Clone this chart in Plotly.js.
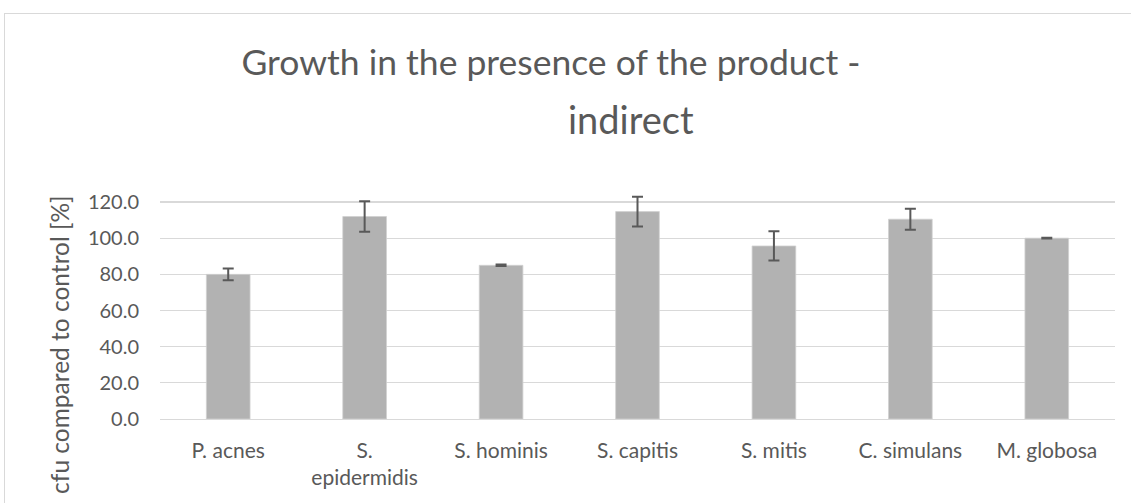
<!DOCTYPE html>
<html>
<head>
<meta charset="utf-8">
<script src="https://cdn.plot.ly/plotly-3.0.1.min.js"></script>
<style>
  html, body { margin: 0; padding: 0; background: #ffffff; }
  #wrap { position: relative; width: 1131px; height: 503px; overflow: hidden; }
  #chart { position: absolute; left: 0; top: 0; width: 1131px; height: 503px; }
  #frame { position: absolute; left: 4px; top: 13px; width: 1140px; height: 520px;
           border-top: 1.5px solid #d9d9d9; border-left: 1.5px solid #d9d9d9; pointer-events: none; }
</style>
</head>
<body>
<div id="wrap">
  <div id="chart"></div>
  <div id="frame"></div>
</div>
<script>
const categories = ["P. acnes", "S. epidermidis", "S. hominis", "S. capitis", "S. mitis", "C. simulans", "M. globosa"];
const tickLabels = ["P. acnes", "S.<br>epidermidis", "S. hominis", "S. capitis", "S. mitis", "C. simulans", "M. globosa"];
const growthPct = [80.0, 112.0, 85.0, 114.7, 95.7, 110.5, 100.0];
const errorPct = [3.3, 8.4, 0.4, 8.2, 8.1, 5.8, 0.2];
const yTicks = [0, 20, 40, 60, 80, 100, 120];

const FONT = "Lato, 'Open Sans', sans-serif";
const GREY = "#595959";

const plotTop = 193.3, plotBottom = 419, plotLeft = 160, plotW = 955;
const plotH = plotBottom - plotTop;
function py(pix) { return (plotBottom - pix) / plotH; }
function px(pix) { return (pix - plotLeft) / plotW; }

const trace = {
  type: "bar",
  x: categories,
  y: growthPct,
  width: 0.32,
  marker: { color: "#b2b2b2", line: { color: "#d0d0d0", width: 0.8 } },
  error_y: { type: "data", array: errorPct, visible: true, color: GREY, thickness: 2, width: 5.5 },
  hoverinfo: "x+y"
};

const layout = {
  width: 1131,
  height: 503,
  paper_bgcolor: "rgba(0,0,0,0)",
  plot_bgcolor: "rgba(0,0,0,0)",
  margin: { l: 160, r: 16, t: 193.3, b: 84, pad: 0 },
  showlegend: false,
  font: { family: FONT, color: GREY, size: 21 },
  title: {
    text: "Growth in the presence of the product -",
    font: { family: FONT, size: 35.5, color: GREY },
    xref: "container", x: 551 / 1131, xanchor: "center",
    yref: "container", y: 1 - 63 / 503, yanchor: "middle"
  },
  annotations: [
    {
      text: "indirect", xref: "paper", yref: "paper",
      x: px(631), y: py(119), xanchor: "center", yanchor: "middle",
      showarrow: false, font: { family: FONT, size: 38, color: GREY }
    },
    {
      text: "cfu compared to control [%]", xref: "paper", yref: "paper",
      x: px(60), y: py(345), xanchor: "center", yanchor: "middle", textangle: -90,
      showarrow: false, font: { family: FONT, size: 24.5, color: GREY }
    }
  ],
  xaxis: {
    type: "category",
    tickvals: categories,
    ticktext: tickLabels,
    showgrid: false,
    zeroline: false,
    showline: true,
    linecolor: "#d9d9d9",
    linewidth: 1.3,
    ticks: "",
    ticklabelstandoff: 12,
    tickfont: { family: FONT, size: 21, color: GREY },
    fixedrange: true
  },
  yaxis: {
    range: [0, 125],
    tickvals: yTicks,
    tickformat: ".1f",
    showgrid: true,
    gridcolor: "#d9d9d9",
    gridwidth: 1.3,
    zeroline: false,
    showline: false,
    ticks: "",
    ticklabelstandoff: 20,
    tickfont: { family: FONT, size: 20, color: GREY },
    fixedrange: true
  }
};

Plotly.newPlot("chart", [trace], layout, { displayModeBar: false, staticPlot: true });
</script>
</body>
</html>
